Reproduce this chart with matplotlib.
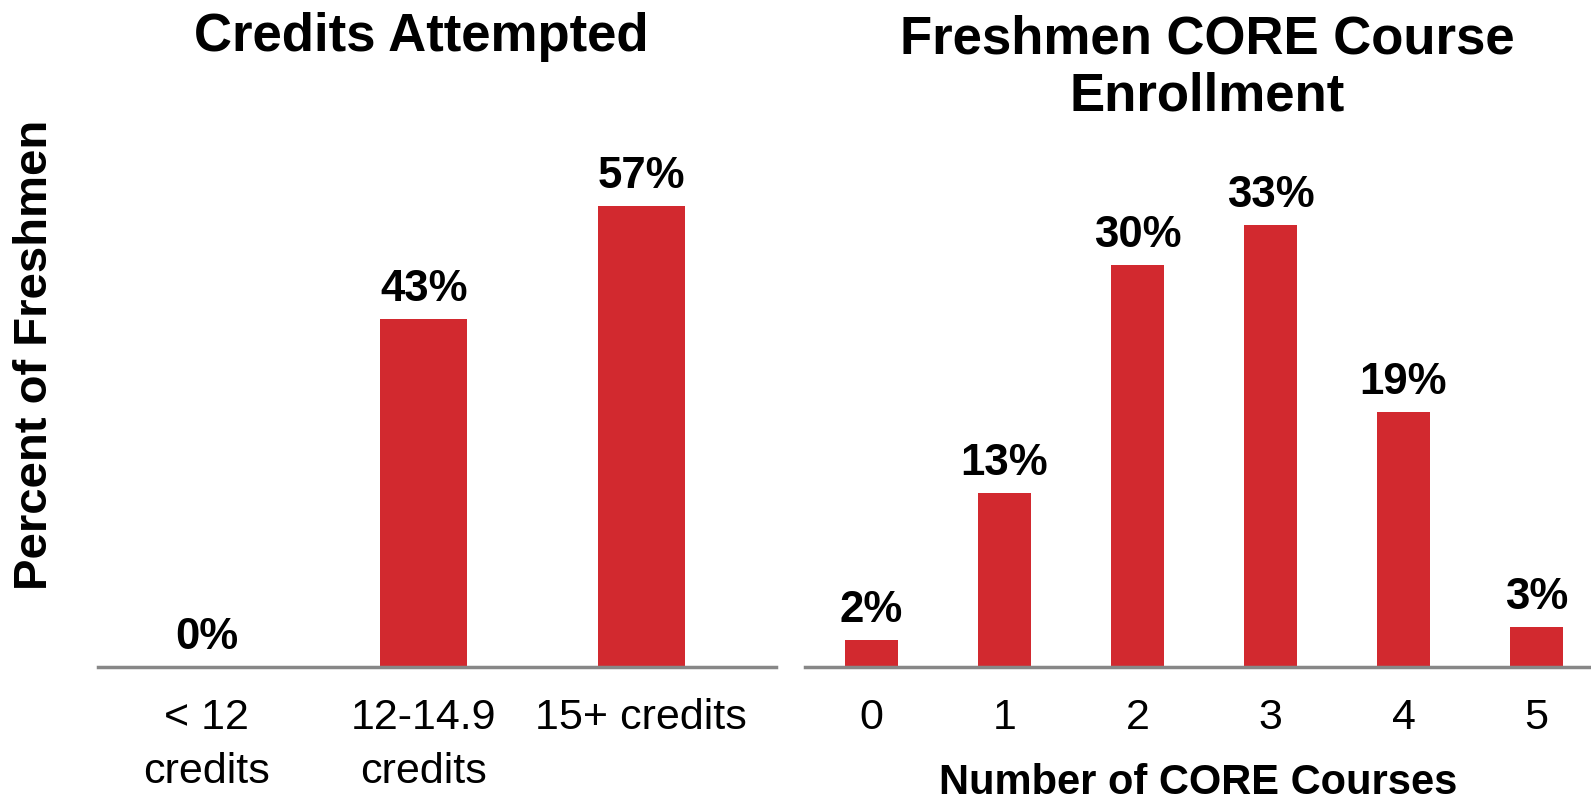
import matplotlib.pyplot as plt

plt.rcParams['font.family'] = ['Liberation Sans', 'DejaVu Sans']

# credits attempted
credit_cats = ["< 12\ncredits", "12-14.9\ncredits", "15+ credits"]
credit_vals = [0, 43, 57]

# CORE enrollment
core_cats = ["0", "1", "2", "3", "4", "5"]
core_vals = [2, 13, 30, 33, 19, 3]

red = "#D2292F"
gray = "#878787"

fig = plt.figure(figsize=(15.91, 7.96), dpi=100)
ax1 = fig.add_axes([0.0616, 0.162, 0.426, 0.65])
ax2 = fig.add_axes([0.506, 0.162, 0.494, 0.65])


def style(ax):
    for s in ["top", "right", "left"]:
        ax.spines[s].set_visible(False)
    ax.spines["bottom"].set_color(gray)
    ax.spines["bottom"].set_linewidth(2.5)
    ax.set_yticks([])
    ax.tick_params(axis="x", length=0, pad=22, labelsize=31)
    for t in ax.get_xticklabels():
        t.set_linespacing(1.45)


def labels(ax, vals):
    for i, v in enumerate(vals):
        ax.annotate("%d%%" % v, (i, v), xytext=(0, 18), textcoords="offset pixels",
                    ha="center", va="baseline", fontsize=31.5, fontweight="bold")


x1 = range(len(credit_cats))
ax1.bar(x1, credit_vals, width=0.4, color=red)
labels(ax1, credit_vals)
ax1.set_xticks(list(x1))
ax1.set_xticklabels(credit_cats)
ax1.set_xlim(-0.5, 2.62)
ax1.set_ylim(0, 64.0)
style(ax1)

x2 = range(len(core_cats))
ax2.bar(x2, core_vals, width=0.4, color=red)
labels(ax2, core_vals)
ax2.set_xticks(list(x2))
ax2.set_xticklabels(core_cats)
ax2.set_xlim(-0.5, 5.41)
ax2.set_ylim(0, 38.6)
style(ax2)
ax2.set_xlabel("Number of CORE Courses", fontsize=30, fontweight="bold", labelpad=18)

fig.text(0.0223, 0.554, "Percent of Freshmen", rotation=90, ha="center", va="center",
         fontsize=34, fontweight="bold")
fig.text(0.2646, 0.954, "Credits Attempted", ha="center", va="center",
         fontsize=38, fontweight="bold")
fig.text(0.759, 0.915, "Freshmen CORE Course\nEnrollment", ha="center", va="center",
         fontsize=38, fontweight="bold", linespacing=1.18)

fig.savefig("out.png", dpi=100)
